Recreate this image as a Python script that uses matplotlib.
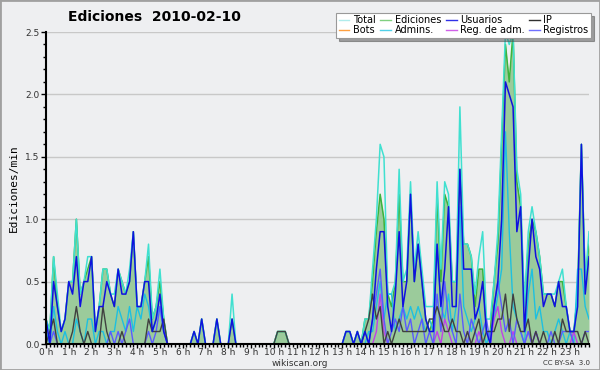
import numpy as np
import matplotlib.pyplot as plt
from matplotlib.ticker import MultipleLocator, FixedLocator
from matplotlib.patches import Rectangle

# values per 10 minutes, one row per hour (edits/min)
ediciones = [
    0.2, 0.1, 0.7, 0.3, 0.1, 0.2,
    0.5, 0.5, 1.0, 0.4, 0.5, 0.6,
    0.7, 0.1, 0.3, 0.6, 0.6, 0.4,
    0.3, 0.6, 0.5, 0.4, 0.5, 0.9,
    0.3, 0.3, 0.5, 0.7, 0.2, 0.3,
    0.5, 0.2, 0.0, 0.0, 0.0, 0.0,
    0.0, 0.0, 0.0, 0.1, 0.0, 0.2,
    0.0, 0.0, 0.0, 0.2, 0.0, 0.0,
    0.0, 0.2, 0.0, 0.0, 0.0, 0.0,
    0.0, 0.0, 0.0, 0.0, 0.0, 0.0,
    0.0, 0.1, 0.1, 0.1, 0.0, 0.0,
    0.0, 0.0, 0.0, 0.0, 0.0, 0.0,
    0.0, 0.0, 0.0, 0.0, 0.0, 0.0,
    0.0, 0.1, 0.1, 0.0, 0.1, 0.0,
    0.2, 0.2, 0.5, 0.9, 1.2, 1.0,
    0.4, 0.3, 0.5, 1.2, 0.5, 0.5,
    1.2, 0.5, 0.8, 0.5, 0.2, 0.1,
    0.2, 1.2, 0.5, 1.2, 1.1, 0.5,
    0.5, 1.4, 0.8, 0.8, 0.7, 0.3,
    0.6, 0.6, 0.1, 0.1, 0.5, 0.8,
    1.6, 2.4, 2.1, 2.5, 1.3, 1.1,
    0.3, 0.8, 1.0, 0.9, 0.7, 0.4,
    0.4, 0.4, 0.3, 0.5, 0.5, 0.3,
    0.1, 0.1, 0.4, 1.6, 0.5, 0.8,
]
total = [
    0.2, 0.1, 0.7, 0.4, 0.1, 0.2,
    0.5, 0.5, 1.0, 0.4, 0.5, 0.7,
    0.7, 0.1, 0.3, 0.6, 0.6, 0.4,
    0.4, 0.6, 0.5, 0.4, 0.6, 0.9,
    0.3, 0.3, 0.5, 0.8, 0.2, 0.3,
    0.6, 0.2, 0.0, 0.0, 0.0, 0.0,
    0.0, 0.0, 0.0, 0.1, 0.0, 0.2,
    0.0, 0.0, 0.0, 0.2, 0.0, 0.0,
    0.0, 0.4, 0.0, 0.0, 0.0, 0.0,
    0.0, 0.0, 0.0, 0.0, 0.0, 0.0,
    0.0, 0.1, 0.1, 0.1, 0.0, 0.0,
    0.0, 0.0, 0.0, 0.0, 0.0, 0.0,
    0.0, 0.0, 0.0, 0.0, 0.0, 0.0,
    0.0, 0.1, 0.1, 0.0, 0.1, 0.0,
    0.2, 0.2, 0.6, 1.0, 1.6, 1.5,
    0.4, 0.4, 0.5, 1.4, 0.5, 0.6,
    1.3, 0.6, 0.9, 0.6, 0.3, 0.3,
    0.3, 1.3, 0.6, 1.3, 1.2, 0.5,
    0.5, 1.9, 0.8, 0.8, 0.7, 0.4,
    0.7, 0.9, 0.2, 0.2, 0.5, 0.9,
    1.7, 2.5, 2.4, 2.5, 1.4, 1.2,
    0.3, 0.9, 1.1, 0.9, 0.7, 0.4,
    0.4, 0.4, 0.4, 0.5, 0.6, 0.3,
    0.1, 0.1, 0.4, 1.6, 0.5, 0.9,
]
usuarios = [
    0.2, 0.0, 0.5, 0.3, 0.1, 0.2,
    0.5, 0.4, 0.7, 0.3, 0.5, 0.5,
    0.7, 0.1, 0.3, 0.3, 0.5, 0.4,
    0.3, 0.6, 0.4, 0.4, 0.5, 0.9,
    0.3, 0.3, 0.5, 0.5, 0.1, 0.2,
    0.4, 0.1, 0.0, 0.0, 0.0, 0.0,
    0.0, 0.0, 0.0, 0.1, 0.0, 0.2,
    0.0, 0.0, 0.0, 0.2, 0.0, 0.0,
    0.0, 0.2, 0.0, 0.0, 0.0, 0.0,
    0.0, 0.0, 0.0, 0.0, 0.0, 0.0,
    0.0, 0.0, 0.0, 0.0, 0.0, 0.0,
    0.0, 0.0, 0.0, 0.0, 0.0, 0.0,
    0.0, 0.0, 0.0, 0.0, 0.0, 0.0,
    0.0, 0.1, 0.1, 0.0, 0.1, 0.0,
    0.1, 0.0, 0.2, 0.6, 0.9, 0.9,
    0.3, 0.1, 0.4, 0.9, 0.3, 0.5,
    1.2, 0.5, 0.8, 0.5, 0.2, 0.1,
    0.1, 0.8, 0.3, 0.6, 1.1, 0.3,
    0.3, 1.4, 0.6, 0.6, 0.6, 0.2,
    0.3, 0.5, 0.1, 0.0, 0.3, 0.5,
    1.0, 2.1, 2.0, 1.9, 0.9, 1.1,
    0.1, 0.6, 1.0, 0.7, 0.6, 0.3,
    0.4, 0.4, 0.3, 0.5, 0.3, 0.3,
    0.1, 0.1, 0.3, 1.6, 0.4, 0.7,
]
ip = [
    0.0, 0.1, 0.2, 0.0, 0.0, 0.0,
    0.0, 0.1, 0.3, 0.1, 0.0, 0.1,
    0.0, 0.0, 0.0, 0.3, 0.1, 0.0,
    0.0, 0.0, 0.1, 0.0, 0.0, 0.0,
    0.0, 0.0, 0.0, 0.2, 0.1, 0.1,
    0.1, 0.2, 0.0, 0.0, 0.0, 0.0,
    0.0, 0.0, 0.0, 0.0, 0.0, 0.0,
    0.0, 0.0, 0.0, 0.0, 0.0, 0.0,
    0.0, 0.0, 0.0, 0.0, 0.0, 0.0,
    0.0, 0.0, 0.0, 0.0, 0.0, 0.0,
    0.0, 0.1, 0.1, 0.1, 0.0, 0.0,
    0.0, 0.0, 0.0, 0.0, 0.0, 0.0,
    0.0, 0.0, 0.0, 0.0, 0.0, 0.0,
    0.0, 0.0, 0.0, 0.0, 0.0, 0.0,
    0.1, 0.2, 0.4, 0.2, 0.3, 0.0,
    0.1, 0.0, 0.1, 0.2, 0.1, 0.1,
    0.1, 0.1, 0.1, 0.1, 0.1, 0.2,
    0.2, 0.3, 0.2, 0.1, 0.1, 0.2,
    0.1, 0.1, 0.0, 0.1, 0.0, 0.1,
    0.2, 0.0, 0.1, 0.1, 0.1, 0.2,
    0.2, 0.4, 0.1, 0.4, 0.2, 0.1,
    0.1, 0.2, 0.0, 0.1, 0.0, 0.1,
    0.0, 0.0, 0.1, 0.0, 0.2, 0.1,
    0.1, 0.1, 0.1, 0.0, 0.1, 0.0,
]
bots = [0.0] * 144
admins = [
    0.1, 0.0, 0.3, 0.1, 0.0, 0.1,
    0.0, 0.0, 0.2, 0.1, 0.0, 0.2,
    0.2, 0.0, 0.1, 0.1, 0.0, 0.1,
    0.1, 0.3, 0.2, 0.1, 0.3, 0.1,
    0.3, 0.2, 0.4, 0.3, 0.1, 0.2,
    0.3, 0.1, 0.0, 0.0, 0.0, 0.0,
    0.0, 0.0, 0.0, 0.0, 0.0, 0.0,
    0.0, 0.0, 0.0, 0.0, 0.0, 0.0,
    0.0, 0.0, 0.0, 0.0, 0.0, 0.0,
    0.0, 0.0, 0.0, 0.0, 0.0, 0.0,
    0.0, 0.0, 0.0, 0.0, 0.0, 0.0,
    0.0, 0.0, 0.0, 0.0, 0.0, 0.0,
    0.0, 0.0, 0.0, 0.0, 0.0, 0.0,
    0.0, 0.0, 0.0, 0.0, 0.0, 0.0,
    0.0, 0.1, 0.1, 0.3, 0.5, 0.2,
    0.4, 0.4, 0.1, 0.2, 0.3, 0.2,
    0.3, 0.2, 0.3, 0.2, 0.1, 0.2,
    0.1, 0.8, 0.3, 0.2, 0.4, 0.1,
    0.3, 1.1, 0.3, 0.2, 0.1, 0.2,
    0.3, 0.1, 0.0, 0.1, 0.2, 0.4,
    0.6, 1.7, 0.9, 0.3, 0.2, 0.1,
    0.0, 0.4, 0.6, 0.2, 0.3, 0.1,
    0.1, 0.0, 0.1, 0.2, 0.1, 0.0,
    0.1, 0.0, 0.6, 0.6, 0.3, 0.2,
]
reg_adm = [
    0.0, 0.0, 0.0, 0.0, 0.0, 0.0,
    0.0, 0.0, 0.0, 0.0, 0.0, 0.0,
    0.0, 0.0, 0.0, 0.0, 0.0, 0.0,
    0.0, 0.0, 0.0, 0.0, 0.0, 0.0,
    0.0, 0.0, 0.0, 0.0, 0.0, 0.0,
    0.0, 0.0, 0.0, 0.0, 0.0, 0.0,
    0.0, 0.0, 0.0, 0.0, 0.0, 0.0,
    0.0, 0.0, 0.0, 0.0, 0.0, 0.0,
    0.0, 0.0, 0.0, 0.0, 0.0, 0.0,
    0.0, 0.0, 0.0, 0.0, 0.0, 0.0,
    0.0, 0.0, 0.0, 0.0, 0.0, 0.0,
    0.0, 0.0, 0.0, 0.0, 0.0, 0.0,
    0.0, 0.0, 0.0, 0.0, 0.0, 0.0,
    0.0, 0.0, 0.0, 0.0, 0.0, 0.0,
    0.0, 0.0, 0.0, 0.1, 0.4, 0.1,
    0.0, 0.0, 0.0, 0.0, 0.0, 0.0,
    0.0, 0.0, 0.0, 0.0, 0.0, 0.0,
    0.0, 0.1, 0.0, 0.2, 0.1, 0.0,
    0.0, 0.0, 0.0, 0.1, 0.0, 0.0,
    0.1, 0.0, 0.0, 0.0, 0.2, 0.3,
    0.1, 0.0, 0.0, 0.1, 0.0, 0.0,
    0.0, 0.1, 0.0, 0.1, 0.0, 0.0,
    0.0, 0.0, 0.0, 0.0, 0.0, 0.0,
    0.0, 0.1, 0.0, 0.0, 0.0, 0.0,
]
registros = [
    0.0, 0.0, 0.1, 0.0, 0.0, 0.0,
    0.0, 0.0, 0.0, 0.0, 0.0, 0.0,
    0.0, 0.0, 0.0, 0.0, 0.0, 0.1,
    0.0, 0.1, 0.0, 0.1, 0.2, 0.0,
    0.0, 0.0, 0.0, 0.1, 0.0, 0.1,
    0.3, 0.1, 0.0, 0.0, 0.0, 0.0,
    0.0, 0.0, 0.0, 0.0, 0.0, 0.0,
    0.0, 0.0, 0.0, 0.0, 0.0, 0.0,
    0.0, 0.0, 0.0, 0.0, 0.0, 0.0,
    0.0, 0.0, 0.0, 0.0, 0.0, 0.0,
    0.0, 0.0, 0.0, 0.0, 0.0, 0.0,
    0.0, 0.0, 0.0, 0.0, 0.0, 0.0,
    0.0, 0.0, 0.0, 0.0, 0.0, 0.0,
    0.0, 0.0, 0.0, 0.0, 0.0, 0.0,
    0.0, 0.0, 0.2, 0.4, 0.6, 0.2,
    0.0, 0.1, 0.2, 0.1, 0.3, 0.1,
    0.2, 0.0, 0.1, 0.2, 0.0, 0.1,
    0.0, 0.4, 0.1, 0.5, 0.2, 0.1,
    0.0, 0.4, 0.1, 0.0, 0.2, 0.1,
    0.0, 0.1, 0.2, 0.0, 0.3, 0.5,
    0.3, 0.1, 0.2, 0.0, 0.2, 0.1,
    0.0, 0.1, 0.0, 0.1, 0.0, 0.0,
    0.0, 0.1, 0.0, 0.0, 0.1, 0.1,
    0.1, 0.0, 0.0, 0.0, 0.1, 0.1,
]
hour_labels = ['%d h' % h for h in range(24)]

hours = np.arange(len(ediciones)) / 6.0
bg = '#eeeff1'

fig = plt.figure(figsize=(6, 3.7), dpi=100, facecolor=bg)
ax = fig.add_axes([46 / 600, 1 - 344 / 370, 543 / 600, 312 / 370], facecolor=bg)

ax.fill_between(hours, ediciones, color='#9bcb9b', lw=0, zorder=1)
ax.plot(hours, ediciones, color='#3cb33c', lw=1.1, zorder=2)
ax.plot(hours, total, color='#40e0d0', lw=1.1, zorder=3)
ax.plot(hours, admins, color='#1ec0e0', lw=1.0, zorder=3)
ax.plot(hours, bots, color='#ff9a20', lw=1.0, zorder=3)
ax.plot(hours, reg_adm, color='#c040e8', lw=1.0, zorder=4)
ax.plot(hours, registros, color='#5a5aff', lw=1.0, zorder=4)
ax.plot(hours, ip, color='#404040', lw=1.0, zorder=5)
ax.plot(hours, usuarios, color='#1010e0', lw=1.1, zorder=6)

ax.set_xlim(0, hours[-1])
ax.set_ylim(0, 2.5)
ax.xaxis.set_major_locator(FixedLocator(range(24)))
ax.set_xticklabels(hour_labels)
ax.xaxis.set_minor_locator(MultipleLocator(1 / 6))
ax.yaxis.set_major_locator(MultipleLocator(0.5))
ax.yaxis.set_minor_locator(MultipleLocator(0.1))
ax.yaxis.set_major_formatter(plt.FormatStrFormatter('%.1f'))
ax.tick_params(which='major', length=3.5, width=1, labelsize=6.5, pad=1,
               colors='black', labelcolor='#333333')
ax.tick_params(axis='x', which='major', length=3, pad=0)
ax.tick_params(which='minor', length=2.5, width=1)
ax.grid(axis='y', which='major', color='#c8c8c8', lw=1)
ax.set_axisbelow(True)
for s in ['top', 'right']:
    ax.spines[s].set_visible(False)
for s in ['left', 'bottom']:
    ax.spines[s].set_linewidth(1.5)
    ax.spines[s].set_zorder(10)

ax.set_ylabel('Ediciones/min', fontsize=8, family='DejaVu Sans Mono', labelpad=5)

# legend, filled column-wise so rows read like the original
names = ['Total', 'Bots', 'Ediciones', 'Admins.', 'Usuarios', 'Reg. de adm.', 'IP', 'Registros']
colors = ['#b0ecec', '#ffa040', '#80d080', '#50d0e8', '#3030e8', '#d060e8', '#303030', '#7070ff']
handles = [plt.Line2D([], [], color=c, lw=1) for c in colors]
leg = fig.legend(handles, names, ncol=4, loc='upper right',
                 bbox_to_anchor=(593 / 600, 1 - 11 / 370), fontsize=7,
                 handlelength=1.1, handletextpad=0.35, columnspacing=0.5,
                 labelspacing=0.0, borderpad=0.25, borderaxespad=0.2,
                 frameon=True, shadow=True, fancybox=False, framealpha=1)
leg.get_frame().set_edgecolor('#999999')
leg.get_frame().set_linewidth(0.8)

fig.text(154 / 600, 1 - 17 / 370, 'Ediciones  2010-02-10', ha='center', va='center',
         fontsize=10, fontweight='bold')
fig.text(300 / 600, 1 - 363.5 / 370, 'wikiscan.org', ha='center', va='center',
         fontsize=6.5, color='#333333')
fig.text(590 / 600, 1 - 363 / 370, 'CC BY-SA  3.0', ha='right', va='center',
         fontsize=5, color='#333333')
fig.patches.append(Rectangle((0, 0), 1, 1, transform=fig.transFigure, fill=False,
                             edgecolor='#a0a0a0', lw=2))

fig.savefig('out.png', dpi=100, facecolor=bg)
